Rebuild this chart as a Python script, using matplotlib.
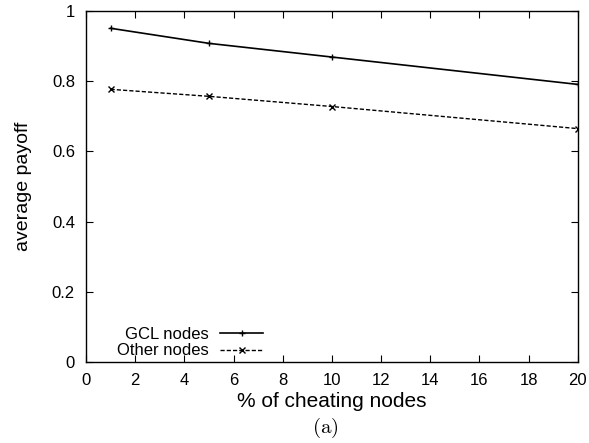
import matplotlib
matplotlib.use("Agg")
import matplotlib.pyplot as plt

x = [1, 5, 10, 20]
gcl = [0.951, 0.908, 0.869, 0.791]
other = [0.777, 0.757, 0.728, 0.665]
xticks = list(range(0, 21, 2))
yticks = [0, 0.2, 0.4, 0.6, 0.8, 1]

plt.rcParams['font.family'] = ['Liberation Sans', 'DejaVu Sans']
plt.rcParams['mathtext.fontset'] = 'cm'

fig = plt.figure(figsize=(5.89, 4.43), dpi=100)
ax = fig.add_axes([0.146, 0.183, 0.835, 0.792])

ax.plot(x, gcl, color='black', lw=1.2, marker='+', ms=5, mew=1.0, label='GCL nodes')
ax.plot(x, other, color='black', lw=1.0, ls=(0, (3, 1.5)), marker='x', ms=4, mew=1.0, label='Other nodes')

ax.set_xlim(0, 20)
ax.set_ylim(0, 1)
ax.set_xticks(xticks)
ax.set_yticks(yticks)
ax.set_yticklabels(['0', '0.2', '0.4', '0.6', '0.8', '1'])
ax.tick_params(direction='in', top=True, right=True, length=5, width=0.8, labelsize=12, pad=8)
for s in ax.spines.values():
    s.set_linewidth(1.0)

ax.set_xlabel('% of cheating nodes', fontsize=15, labelpad=3)
ax.set_ylabel('average payoff', fontsize=14, labelpad=14)

leg = ax.legend(loc='lower left', bbox_to_anchor=(0.04, -0.023), markerfirst=False, frameon=False,
                fontsize=12, handlelength=2.6, handletextpad=0.65, labelspacing=0.1, borderaxespad=0.3)
for t in leg.get_texts():
    t.set_ha('right')

fig.text(0.552, 0.033, r'$\mathrm{(a)}$', fontsize=15, ha='center', va='center')

fig.savefig('out.png', dpi=100)
